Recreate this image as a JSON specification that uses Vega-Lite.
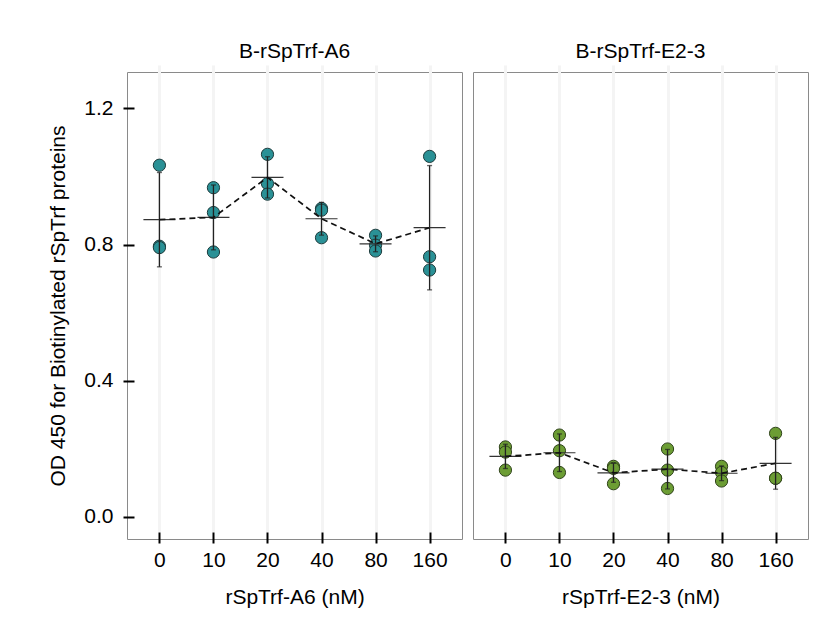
{
  "$schema": "https://vega.github.io/schema/vega-lite/v6.json",
  "background": "white",
  "padding": {"left": 47, "top": 40, "right": 10, "bottom": 10},
  "spacing": 9,
  "data": {"values": [
    {"p": "A6", "dose": 0, "od": 1.033}, {"p": "A6", "dose": 0, "od": 0.795}, {"p": "A6", "dose": 0, "od": 0.791},
    {"p": "A6", "dose": 10, "od": 0.967}, {"p": "A6", "dose": 10, "od": 0.894}, {"p": "A6", "dose": 10, "od": 0.778},
    {"p": "A6", "dose": 20, "od": 1.065}, {"p": "A6", "dose": 20, "od": 0.979}, {"p": "A6", "dose": 20, "od": 0.948},
    {"p": "A6", "dose": 40, "od": 0.906}, {"p": "A6", "dose": 40, "od": 0.901}, {"p": "A6", "dose": 40, "od": 0.820},
    {"p": "A6", "dose": 80, "od": 0.827}, {"p": "A6", "dose": 80, "od": 0.798}, {"p": "A6", "dose": 80, "od": 0.781},
    {"p": "A6", "dose": 160, "od": 1.059}, {"p": "A6", "dose": 160, "od": 0.764}, {"p": "A6", "dose": 160, "od": 0.725},
    {"p": "E2", "dose": 0, "od": 0.205}, {"p": "E2", "dose": 0, "od": 0.190}, {"p": "E2", "dose": 0, "od": 0.137},
    {"p": "E2", "dose": 10, "od": 0.240}, {"p": "E2", "dose": 10, "od": 0.194}, {"p": "E2", "dose": 10, "od": 0.130},
    {"p": "E2", "dose": 20, "od": 0.148}, {"p": "E2", "dose": 20, "od": 0.142}, {"p": "E2", "dose": 20, "od": 0.097},
    {"p": "E2", "dose": 40, "od": 0.199}, {"p": "E2", "dose": 40, "od": 0.137}, {"p": "E2", "dose": 40, "od": 0.083},
    {"p": "E2", "dose": 80, "od": 0.148}, {"p": "E2", "dose": 80, "od": 0.130}, {"p": "E2", "dose": 80, "od": 0.105},
    {"p": "E2", "dose": 160, "od": 0.245}, {"p": "E2", "dose": 160, "od": 0.113}, {"p": "E2", "dose": 160, "od": 0.113}
  ]},
  "hconcat": [
    {
      "width": 335, "height": 467,
      "title": {"text": "B-rSpTrf-A6"},
      "transform": [{"filter": "datum.p === 'A6'"}],
      "encoding": {
        "x": {"field": "dose", "type": "ordinal", "title": "rSpTrf-A6 (nM)",
              "scale": {"type": "point", "padding": 0.6}},
        "y": {"field": "od", "type": "quantitative",
              "scale": {"domain": [-0.0655, 1.307], "nice": false, "zero": false},
              "axis": {"values": [0, 0.4, 0.8, 1.2], "format": ".1f", "title": "OD 450 for Biotinylated rSpTrf proteins"}}
      },
      "layer": [
        {"mark": {"type": "point", "filled": true, "size": 150, "color": "#2a9196", "stroke": "#1d3b3c", "strokeWidth": 1, "opacity": 1}},
        {"mark": {"type": "errorbar", "extent": "stdev", "color": "#222", "thickness": 1.3, "ticks": {"size": 5, "color": "#222"}}},
        {"mark": {"type": "tick", "size": 32, "thickness": 1.2, "color": "#333"}, "encoding": {"y": {"field": "od", "aggregate": "mean", "type": "quantitative"}}},
        {"mark": {"type": "line", "strokeDash": [6, 4], "strokeWidth": 1.7, "color": "#111"}, "encoding": {"y": {"field": "od", "aggregate": "mean", "type": "quantitative"}}}
      ]
    },
    {
      "width": 335, "height": 467,
      "title": {"text": "B-rSpTrf-E2-3"},
      "transform": [{"filter": "datum.p === 'E2'"}],
      "encoding": {
        "x": {"field": "dose", "type": "ordinal", "title": "rSpTrf-E2-3 (nM)",
              "scale": {"type": "point", "padding": 0.6}},
        "y": {"field": "od", "type": "quantitative",
              "scale": {"domain": [-0.0655, 1.307], "nice": false, "zero": false},
              "axis": null}
      },
      "layer": [
        {"mark": {"type": "point", "filled": true, "size": 150, "color": "#6c9d34", "stroke": "#2f431a", "strokeWidth": 1, "opacity": 1}},
        {"mark": {"type": "errorbar", "extent": "stdev", "color": "#222", "thickness": 1.3, "ticks": {"size": 5, "color": "#222"}}},
        {"mark": {"type": "tick", "size": 32, "thickness": 1.2, "color": "#333"}, "encoding": {"y": {"field": "od", "aggregate": "mean", "type": "quantitative"}}},
        {"mark": {"type": "line", "strokeDash": [6, 4], "strokeWidth": 1.7, "color": "#111"}, "encoding": {"y": {"field": "od", "aggregate": "mean", "type": "quantitative"}}}
      ]
    }
  ],
  "config": {
    "font": "Liberation Sans",
    "view": {"stroke": "#8a8a8a", "strokeWidth": 1},
    "title": {"fontSize": 21, "fontWeight": "normal", "color": "#000", "offset": 10, "anchor": "middle"},
    "axis": {
      "labelFontSize": 21, "titleFontSize": 21, "titleFontWeight": "normal",
      "labelColor": "#000", "titleColor": "#000",
      "domain": false, "tickColor": "#000", "tickWidth": 2, "tickSize": 11, "offset": -7,
      "labelPadding": 6
    },
    "axisX": {"labelAngle": 0, "grid": true, "gridColor": "#f4f4f4", "gridWidth": 3, "titlePadding": 16},
    "axisY": {"grid": false, "labelPadding": 10, "titlePadding": 15}
  }
}
